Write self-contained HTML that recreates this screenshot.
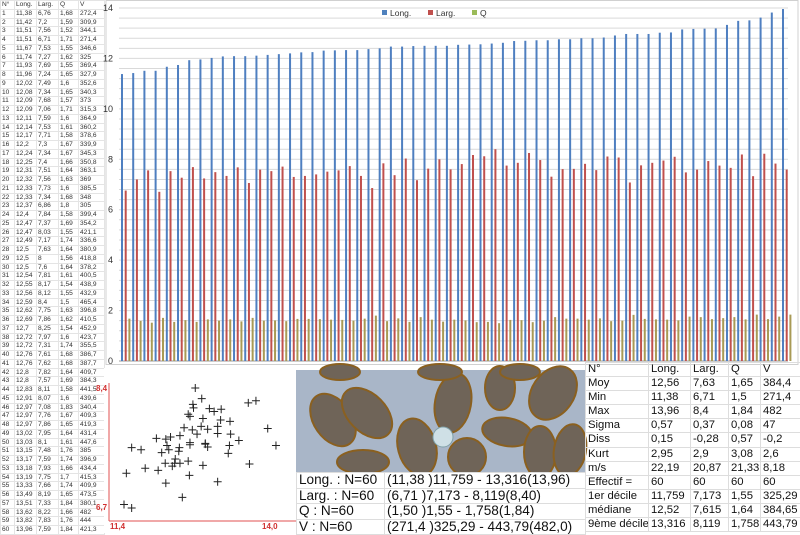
<!DOCTYPE html>
<html><head><meta charset="utf-8">
<style>
body{margin:0;width:800px;height:533px;overflow:hidden;background:#fff;font-family:"Liberation Sans",Arial,sans-serif;position:relative}
#dt{position:absolute;left:0;top:0;width:104px;border-collapse:collapse;font-size:6.6px;color:#333;table-layout:fixed}
#dt td{border:1px solid #e4e4e4;padding:0 1px;height:7.75px;line-height:7.75px;white-space:nowrap;overflow:hidden}
svg{position:absolute;left:0;top:0}
#st{position:absolute;left:585px;top:362px;width:215px;border-collapse:collapse;font-size:11.3px;color:#111;table-layout:fixed}
#st td{border:1px solid #ddd;height:13.1px;line-height:13.1px;padding:0 2px;white-space:nowrap;overflow:hidden}
#sm{position:absolute;left:296px;top:472px;width:289px;border-collapse:collapse;font-size:13.6px;color:#111;table-layout:fixed;background:#fff}
#sm td{border:1px solid #ddd;height:14.6px;line-height:14.6px;padding:0 2px;white-space:nowrap;overflow:hidden}
</style></head><body>
<table id="dt"></table>
<svg id="ch" width="800" height="533"></svg>
<table id="sm">
<colgroup><col style="width:88px"><col style="width:201px"></colgroup>
<tr><td>Long. : N=60</td><td>(11,38 )11,759 - 13,316(13,96)</td></tr>
<tr><td>Larg. : N=60</td><td>(6,71 )7,173 - 8,119(8,40)</td></tr>
<tr><td>Q : N=60</td><td>(1,50 )1,55 - 1,758(1,84)</td></tr>
<tr><td>V : N=60</td><td>(271,4 )325,29 - 443,79(482,0)</td></tr>
</table>
<table id="st">
<colgroup><col style="width:63px"><col style="width:42px"><col style="width:38px"><col style="width:32px"><col style="width:40px"></colgroup>
<tr><td>N°</td><td>Long.</td><td>Larg.</td><td>Q</td><td>V</td></tr>
<tr><td>Moy</td><td>12,56</td><td>7,63</td><td>1,65</td><td>384,4</td></tr>
<tr><td>Min</td><td>11,38</td><td>6,71</td><td>1,5</td><td>271,4</td></tr>
<tr><td>Max</td><td>13,96</td><td>8,4</td><td>1,84</td><td>482</td></tr>
<tr><td>Sigma</td><td>0,57</td><td>0,37</td><td>0,08</td><td>47</td></tr>
<tr><td>Diss</td><td>0,15</td><td>-0,28</td><td>0,57</td><td>-0,2</td></tr>
<tr><td>Kurt</td><td>2,95</td><td>2,9</td><td>3,08</td><td>2,6</td></tr>
<tr><td>m/s</td><td>22,19</td><td>20,87</td><td>21,33</td><td>8,18</td></tr>
<tr><td>Effectif =</td><td>60</td><td>60</td><td>60</td><td>60</td></tr>
<tr><td>1er décile</td><td>11,759</td><td>7,173</td><td>1,55</td><td>325,29</td></tr>
<tr><td>médiane</td><td>12,52</td><td>7,615</td><td>1,64</td><td>384,65</td></tr>
<tr><td>9ème décile</td><td>13,316</td><td>8,119</td><td>1,758</td><td>443,79</td></tr>
</table>
<script>
const longVals=[11.38,11.42,11.51,11.51,11.67,11.74,11.93,11.96,12.02,12.08,12.09,12.09,12.11,12.14,12.17,12.2,12.24,12.25,12.31,12.32,12.33,12.33,12.37,12.4,12.47,12.47,12.49,12.5,12.5,12.5,12.54,12.55,12.56,12.59,12.62,12.69,12.7,12.72,12.72,12.76,12.76,12.8,12.8,12.83,12.91,12.97,12.97,12.97,13.02,13.03,13.15,13.17,13.18,13.19,13.33,13.49,13.51,13.62,13.82,13.96];
const largVals=[6.76,7.2,7.56,6.71,7.53,7.27,7.69,7.24,7.49,7.34,7.68,7.06,7.59,7.53,7.71,7.3,7.34,7.4,7.51,7.56,7.73,7.34,6.86,7.84,7.37,8.03,7.17,7.63,8,7.6,7.81,8.17,8.12,8.4,7.75,7.86,8.25,7.97,7.31,7.61,7.62,7.82,7.57,8.11,8.07,7.08,7.76,7.86,7.95,8.1,7.48,7.59,7.93,7.75,7.66,8.19,7.33,8.22,7.83,7.59];
const qVals=[1.68,1.59,1.52,1.71,1.55,1.62,1.55,1.65,1.6,1.65,1.57,1.71,1.6,1.61,1.58,1.67,1.67,1.66,1.64,1.63,1.6,1.68,1.8,1.58,1.69,1.55,1.74,1.64,1.56,1.64,1.61,1.54,1.55,1.5,1.63,1.62,1.54,1.6,1.74,1.68,1.68,1.64,1.69,1.58,1.6,1.83,1.67,1.65,1.64,1.61,1.76,1.74,1.66,1.7,1.74,1.65,1.84,1.66,1.76,1.84];
const vVals=[272.4,309.9,344.1,271.4,346.6,325,369.4,327.9,352.6,340.3,373,315.3,364.9,360.2,378.6,339.9,345.3,350.8,363.1,369,385.5,348,305,399.4,354.2,421.1,336.6,380.9,418.8,378.2,400.5,438.9,432.9,465.4,396.8,410.5,452.9,423.7,355.5,386.7,387.7,409.7,384.3,441.5,439.6,340.4,409.3,419.3,431.4,447.6,385,396.9,434.4,415.3,409.9,473.5,380.1,482,444,421.3];
const yTicks=[0,2,4,6,8,10,12,14];
const seriesNames=["Long.","Larg.","Q"];
const seriesColors=["#4f7fc0","#c0504d","#a89a55"];
const legendColors=["#4f81bd","#c0504d","#9bbb59"];

const fmt=v=>String(v).replace('.',',');
const dt=document.getElementById('dt');
let h='<colgroup><col style="width:14px"><col style="width:22px"><col style="width:22px"><col style="width:20px"><col style="width:26px"></colgroup><tr><td>N°</td><td>Long.</td><td>Larg.</td><td>Q</td><td>V</td></tr>';
for(let i=0;i<longVals.length;i++)h+=`<tr><td>${i+1}</td><td>${fmt(longVals[i])}</td><td>${fmt(largVals[i])}</td><td>${fmt(qVals[i])}</td><td>${fmt(vVals[i])}</td></tr>`;
dt.innerHTML=h;

const NS='http://www.w3.org/2000/svg';
const svg=document.getElementById('ch');
function mk(t,a,p){const e=document.createElementNS(NS,t);for(const k in a)e.setAttribute(k,a[k]);(p||svg).appendChild(e);return e;}
const y0=361,y14=8;
const yS=v=>y0-(y0-y14)*v/14;
const gx0=122,gStep=(783-122)/(longVals.length-1);
const xS=i=>gx0+i*gStep;
mk('rect',{x:106,y:0.5,width:692,height:364,fill:'#fff',stroke:'#d0d0d0'});
for(let v=0;v<=14.001;v+=0.4){mk('line',{x1:119,x2:788,y1:yS(v),y2:yS(v),stroke:'#d9d9d9','stroke-width':1});}
for(const t of yTicks){const e=mk('text',{x:113,y:yS(t)+3,'font-size':9,'text-anchor':'end',fill:'#333'});e.textContent=t;

}
mk('line',{x1:119,x2:788,y1:y0,y2:y0,stroke:'#999'});
const series=[longVals,largVals,qVals];
series.forEach((arr,s)=>{arr.forEach((v,i)=>{
 const r=mk('rect',{x:xS(i)+s*3.7-1,y:yS(v),width:2,height:y0-yS(v),fill:seriesColors[s]});
 
 
});});
const lx=[382,428,472];
seriesNames.forEach((n,s)=>{
 const g=mk('g',{});
 
 
 mk('rect',{x:lx[s],y:10,width:5,height:5,fill:legendColors[s]},g);
 const t=mk('text',{x:lx[s]+8,y:16,'font-size':8.5,fill:'#333'},g);t.textContent=n;
});
// scatter panel
mk('rect',{x:104,y:368,width:192,height:165,fill:'#fff'});
mk('line',{x1:109,x2:109,y1:383,y2:521,stroke:'#e05050'});
mk('line',{x1:109,x2:296,y1:521,y2:521,stroke:'#e05050'});
const sx=v=>124+(v-11.38)*58.9;
const sy=v=>508-(v-6.71)*71;
[['8,4',96,391],['6,7',96,510],['11,4',110,529],['14,0',262,529]].forEach(([t,x,y])=>{const e=mk('text',{x,y,'font-size':8,'font-weight':'bold',fill:'#d03030'});e.textContent=t;

});
longVals.forEach((v,i)=>{const x=sx(v),y=sy(largVals[i]);
 const p=mk('path',{d:`M${x-4} ${y}h8M${x} ${y-4}v8`,stroke:'#222','stroke-width':1});
 
 
});
// photo
const ph=mk('g',{});


mk('rect',{x:296,y:370,width:289,height:102,fill:'#a9b6c8'},ph);
[[333,420,19,29,-35],[367,413,19,30,-45],[453,403,18,30,10],[500,388,15,22,0],[553,393,21,29,35],[417,447,19,29,-15],[507,432,25,14,10],[467,457,19,19,0],[540,452,16,26,0],[570,450,16,26,10],[363,462,26,12,0],[340,372,20,8,0],[440,372,22,8,0],[520,372,20,8,0]].forEach(([cx,cy,rx,ry,r])=>{
 mk('ellipse',{cx,cy,rx,ry,transform:`rotate(${r} ${cx} ${cy})`,fill:'#6f6458',stroke:'#8a6020','stroke-width':2},ph);
});
mk('circle',{cx:443,cy:437,r:10,fill:'#cfe0e6',stroke:'#7fa0a8'},ph);
</script>
</body></html>
